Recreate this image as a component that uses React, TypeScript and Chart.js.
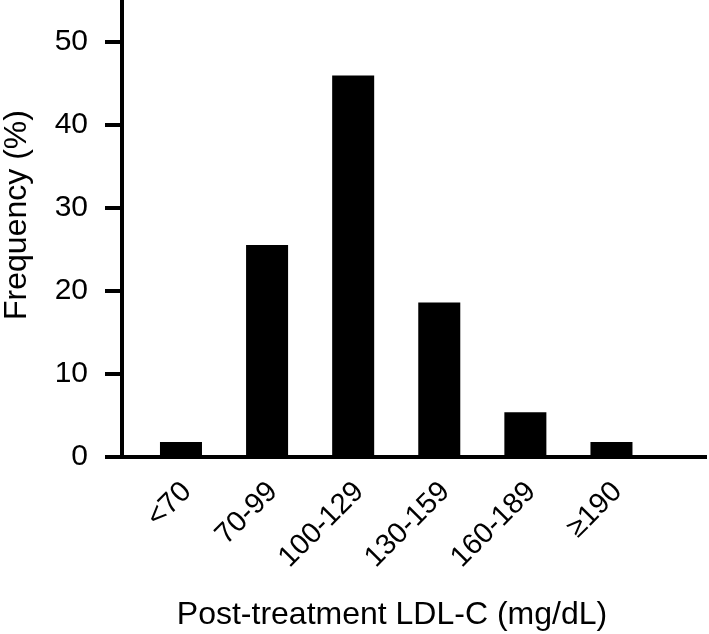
import { useEffect, useRef } from "react";
import { Chart, registerables } from "chart.js";

Chart.register(...registerables);

const categories = ["<70", "70-99", "100-129", "130-159", "160-189", "≥190"];
const frequency = [1.8, 25.5, 45.9, 18.6, 5.4, 1.8];
const yTicks = [0, 10, 20, 30, 40, 50];
const xTitle = "Post-treatment LDL-C (mg/dL)";
const yTitle = "Frequency (%)";

const family = "'Liberation Sans', Arial, Helvetica, sans-serif";

const axisTitles = {
  id: "axisTitles",
  afterDraw(chart: any) {
    const { ctx, chartArea } = chart;
    ctx.save();
    ctx.fillStyle = "#000";
    ctx.font = `32px ${family}`;
    ctx.textAlign = "center";
    ctx.textBaseline = "alphabetic";
    ctx.fillText(xTitle, chartArea.left + 270, 624);
    ctx.translate(chartArea.left - 96.5, chartArea.top + 215);
    ctx.rotate(-Math.PI / 2);
    ctx.fillText(yTitle, 0, 0);
    ctx.restore();
  },
};

export default function App() {
  const ref = useRef<HTMLCanvasElement>(null);
  useEffect(() => {
    const chart = new Chart(ref.current!, {
      type: "bar",
      data: {
        datasets: [
          {
            data: frequency.map((v, i) => ({ x: i, y: v })),
            backgroundColor: "#000",
            borderWidth: 0,
            barPercentage: 0.488,
            categoryPercentage: 1,
          },
        ],
      },
      plugins: [axisTitles],
      options: {
        animation: false,
        responsive: false,
        maintainAspectRatio: false,
        layout: { padding: { top: 0, right: 3, left: 0, bottom: 0 } },
        plugins: { legend: { display: false }, tooltip: { enabled: false } },
        scales: {
          x: {
            type: "linear",
            offset: false,
            min: -0.685,
            max: 6.098,
            grid: { display: false, drawTicks: false },
            border: { color: "#000", width: 4 },
            afterBuildTicks: (s: any) => {
              s.ticks = categories.map((_, i) => ({ value: i }));
            },
            afterFit: (s: any) => {
              s.height = 177;
              s.paddingLeft = 0;
              s.paddingRight = 0;
            },
            ticks: {
              callback: (v: any) => categories[v as number],
              minRotation: 45,
              maxRotation: 45,
              autoSkip: false,
              labelOffset: 6,
              font: { family, size: 29 },
              color: "#000",
              padding: 18,
            },
          },
          y: {
            min: 0,
            max: 55,
            afterBuildTicks: (s: any) => {
              s.ticks = yTicks.map((v) => ({ value: v }));
            },
            afterFit: (s: any) => {
              s.width = 122;
              s.paddingTop = 0;
              s.paddingBottom = 0;
            },
            grid: {
              drawOnChartArea: false,
              tickLength: 17,
              lineWidth: 4,
              color: "#000",
            },
            border: { color: "#000", width: 4 },
            ticks: {
              font: { family, size: 30 },
              color: "#000",
              padding: 17,
            },
          },
        },
      },
    });
    return () => chart.destroy();
  }, []);
  return (
    <div style={{ position: "fixed", left: 0, top: 0, width: 709, height: 634, background: "#fff" }}>
      <canvas ref={ref} width={709} height={634} />
    </div>
  );
}
